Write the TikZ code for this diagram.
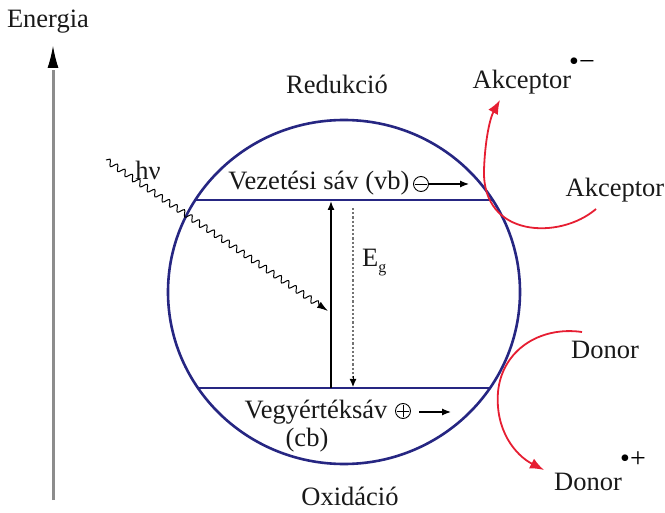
\documentclass[tikz,border=0pt]{standalone}
\usepackage{fontspec}
\setmainfont{Liberation Serif}
\newfontfamily\tms{Liberation Serif}
\usetikzlibrary{arrows.meta,decorations.pathmorphing}
\definecolor{navy}{RGB}{38,38,130}
\definecolor{redarc}{RGB}{230,30,50}
\tikzset{
  lbl/.style={inner sep=0pt, font=\tms\fontsize{26.5}{29}\selectfont, text=black!90},
  sup/.style={inner sep=0pt, font=\tms\fontsize{28}{29}\selectfont, text=black},
  band/.style={navy, line width=1.4pt},
  vert/.style={black, line width=1.4pt},
  tipb/.style={-{Latex[length=9pt,width=7pt]}},
  redarrow/.style={redarc, line width=1.8pt, -{Latex[length=14pt,width=11pt]}},
  chg/.style={circle, draw=black, line width=0.9pt, minimum size=15pt, inner sep=0pt},
}
\begin{document}
\begin{tikzpicture}[x=1pt,y=-1pt]
\useasboundingbox (0,0) rectangle (665,513);
% energy axis
\node[lbl] (energia) at (48,22) {Energia};
\coordinate (ebot) at (53,500);
\coordinate (etop) at (53,46);
\draw[black!45, line width=3pt] (ebot) -- (53,70);
\draw[black, line width=1pt, -{Latex[length=22pt,width=11pt]}] (53,68) -- (etop);
% circle
\draw[navy, line width=2.6pt] (344,292) ellipse [x radius=176, y radius=172];
% bands
\coordinate (cbl) at (196,200); \coordinate (cbr) at (492,200);
\coordinate (vbl) at (198,388); \coordinate (vbr) at (490,388);
\draw[band] (cbl) -- (cbr);
\draw[band] (vbl) -- (vbr);
% gap arrows
\coordinate (up0) at (331,388); \coordinate (up1) at (331,201);
\draw[vert, tipb] (up0) -- (up1);
\coordinate (dn0) at (353,208); \coordinate (dn1) at (353,387);
\draw[black!55, line width=2.2pt, dotted, line cap=butt] (dn0) -- (353,378);
\draw[black, line width=1pt, -{Latex[length=8pt,width=7pt]}] (353,376) -- (dn1);
\node[lbl, anchor=west] (eg) at (362,263) {E\raisebox{-6pt}{\fontsize{16}{17}\selectfont g}};
% photon
\coordinate (ph0) at (106,160); \coordinate (ph1) at (328,311);
\draw[black, line width=1pt, decorate, decoration={snake, amplitude=3pt, segment length=9pt, post length=10pt}, -{Latex[length=11pt,width=7pt]}] (ph0) -- (ph1);
\node[lbl] (hv) at (148,170) {hν};
% labels
\node[lbl] (red) at (337,84) {Redukció};
\node[lbl] (oxi) at (350,496) {Oxidáció};
\node[lbl] (vb) at (319,183) {Vezetési sáv (vb)};
\node[chg] (minus) at (421,184) {};
\draw[black, line width=0.9pt] (415,184) -- (427,184);
\coordinate (ea1) at (469,184);
\draw[black, line width=1.2pt, -{Latex[length=9pt,width=7pt]}] (minus.east) -- (ea1);
\node[lbl] (cb) at (316,412) {Vegyértéksáv};
\node[lbl] (cb2) at (307,440) {(cb)};
\node[chg] (plus) at (403,411) {};
\draw[black, line width=0.9pt] (397,411) -- (409,411) (403,405) -- (403,417);
\coordinate (ha0) at (419,412); \coordinate (ha1) at (451,412);
\draw[black, line width=1.2pt, -{Latex[length=9pt,width=7pt]}] (ha0) -- (ha1);
% acceptor / donor
\node[lbl] (akc1) at (522,82) {Akceptor};
\node[sup] (akcr) at (582,64) {•−};
\node[lbl] (akc2) at (615,190) {Akceptor};
\node[lbl] (don1) at (605,350) {Donor};
\node[lbl] (don2) at (588,482) {Donor};
\node[sup] (donr) at (633,460) {•+};
\coordinate (ra0) at (596,209);
\coordinate (ra1) at (500,100);
\draw[redarrow] (ra0) .. controls (560,240) and (482,238) .. (484,170) .. controls (485,140) and (490,118) .. (ra1);
\coordinate (rd0) at (582,332);
\coordinate (rd1) at (544,470);
\draw[redarrow] (rd0) .. controls (540,326) and (502,350) .. (498,392) .. controls (495,430) and (515,455) .. (rd1);
\end{tikzpicture}
\end{document}
